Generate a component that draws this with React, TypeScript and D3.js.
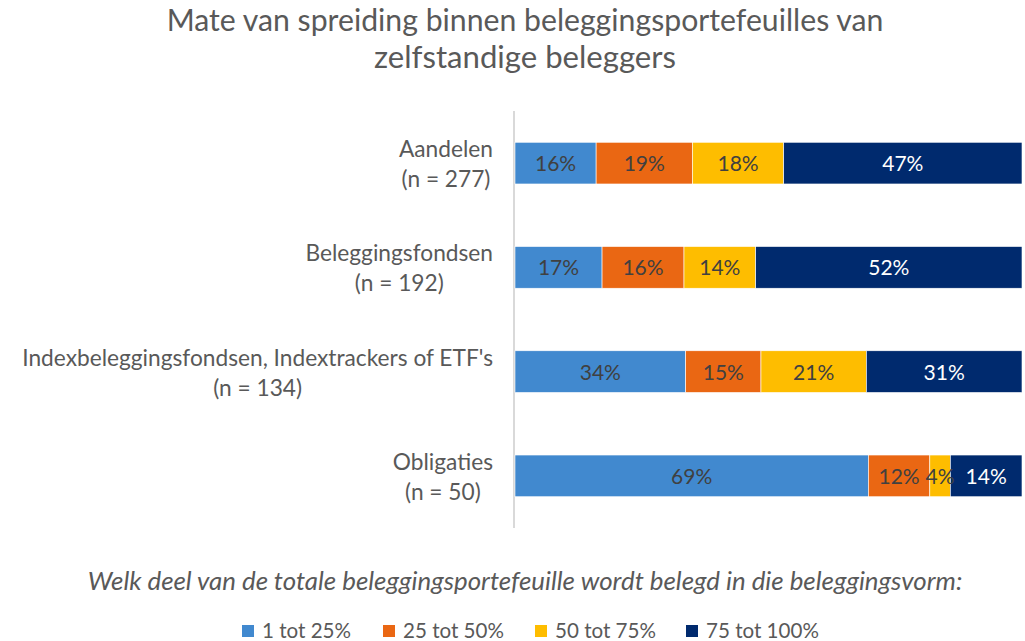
import React, { useEffect, useRef } from "react";
import * as d3 from "d3";

const categories = ["Aandelen", "Beleggingsfondsen", "Indexbeleggingsfondsen, Indextrackers of ETF's", "Obligaties"];
const sampleSizes = ["(n = 277)", "(n = 192)", "(n = 134)", "(n = 50)"];
const seriesNames = ["1 tot 25%", "25 tot 50%", "50 tot 75%", "75 tot 100%"];
const s1 = [16, 17, 34, 69];
const s2 = [19, 16, 15, 12];
const s3 = [18, 14, 21, 4];
const s4 = [47, 52, 31, 14];
const colors = ["#4189CF", "#EA6713", "#FEBD00", "#002A6E"];
const labelColors = ["#404040", "#404040", "#404040", "#FFFFFF"];
const titleLines = ["Mate van spreiding binnen beleggingsportefeuilles van", "zelfstandige beleggers"];
const axisTitle = "Welk deel van de totale beleggingsportefeuille wordt belegd in die beleggingsvorm:";

const FONT = "Lato, 'Open Sans', sans-serif";
const GREY = "#595959";

export default function App() {
  const ref = useRef<SVGSVGElement>(null);
  useEffect(() => {
    const svg = d3.select(ref.current);
    svg.selectAll("*").remove();
    const left = 515, right = 1022, top = 111, bottom = 528;

    const rows = categories.map((c, i) => ({ cat: c, v0: s1[i], v1: s2[i], v2: s3[i], v3: s4[i] }));
    const keys = ["v0", "v1", "v2", "v3"];
    const stack = d3.stack<any>().keys(keys).offset(d3.stackOffsetExpand);
    const stacked = stack(rows);
    const raw = [s1, s2, s3, s4];

    const x = d3.scaleLinear().domain([0, 1]).range([left, right]);
    const y = d3.scaleBand().domain(categories).range([top, bottom]).paddingInner(0.6).paddingOuter(0.3);

    const fit = (sel: any, target: number) => {
      const w = (sel.node() as SVGTextElement).getComputedTextLength();
      const fs = parseFloat(sel.attr("font-size"));
      sel.attr("font-size", (fs * target) / w);
    };

    titleLines.forEach((t, i) => {
      const el = svg.append("text").attr("x", 525).attr("y", i === 0 ? 31 : 68)
        .attr("text-anchor", "middle").attr("font-family", FONT).attr("font-size", 25)
        .attr("fill", GREY).text(t);
      if (i === 0) fit(el, 717);
      else fit(el, 302);
    });

    svg.append("line").attr("x1", 514).attr("x2", 514).attr("y1", top).attr("y2", bottom)
      .attr("stroke", "#D9D9D9").attr("stroke-width", 2);

    stacked.forEach((layer, li) => {
      const g = svg.append("g");
      layer.forEach((d, i) => {
        const y0 = y(categories[i])!;
        g.append("rect").attr("x", x(d[0])).attr("y", y0).attr("width", x(d[1]) - x(d[0]))
          .attr("height", y.bandwidth()).attr("fill", colors[li])
          .attr("stroke", "#FFFFFF").attr("stroke-width", 0.6);
      });
    });
    stacked.forEach((layer, li) => {
      layer.forEach((d, i) => {
        const cy = y(categories[i])! + y.bandwidth() / 2;
        svg.append("text").attr("x", (x(d[0]) + x(d[1])) / 2).attr("y", cy + 8)
          .attr("text-anchor", "middle").attr("font-family", FONT).attr("font-size", 21)
          .attr("fill", labelColors[li]).text(raw[li][i] + "%");
      });
    });

    const catFont = 18;
    const tmp = svg.append("text").attr("font-family", FONT).attr("font-size", catFont).text(categories[2]);
    const longW = (tmp.node() as SVGTextElement).getComputedTextLength();
    tmp.remove();
    const catFs = (catFont * 471) / longW;
    categories.forEach((c, i) => {
      const cy = y(c)! + y.bandwidth() / 2;
      const t1 = svg.append("text").attr("font-family", FONT).attr("font-size", catFs).attr("fill", GREY)
        .attr("text-anchor", "middle").text(c);
      const t2 = svg.append("text").attr("font-family", FONT).attr("font-size", catFs).attr("fill", GREY)
        .attr("text-anchor", "middle").text(sampleSizes[i]);
      const w = Math.max((t1.node() as SVGTextElement).getComputedTextLength(), (t2.node() as SVGTextElement).getComputedTextLength());
      const cx = 493 - w / 2;
      t1.attr("x", cx).attr("y", cy - 6);
      t2.attr("x", cx).attr("y", cy + 24);
    });

    const at = svg.append("text").attr("x", 525).attr("y", 590).attr("text-anchor", "middle")
      .attr("font-family", FONT).attr("font-style", "italic").attr("font-size", 20).attr("fill", GREY).text(axisTitle);
    fit(at, 875);

    const tmp2 = svg.append("text").attr("font-family", FONT).attr("font-size", 20).text(seriesNames[3]);
    const lw = (tmp2.node() as SVGTextElement).getComputedTextLength();
    tmp2.remove();
    const legFs = (20 * 113) / lw;
    const legX = [242, 383, 535, 686];
    seriesNames.forEach((s, i) => {
      svg.append("rect").attr("x", legX[i]).attr("y", 625).attr("width", 12).attr("height", 12).attr("fill", colors[i]);
      svg.append("text").attr("x", legX[i] + 20).attr("y", 638).attr("font-family", FONT).attr("font-size", legFs)
        .attr("fill", GREY).text(s);
    });
  }, []);
  return (
    <svg ref={ref} width={1025} height={641} style={{ position: "absolute", left: 0, top: 0, background: "#fff" }} />
  );
}
